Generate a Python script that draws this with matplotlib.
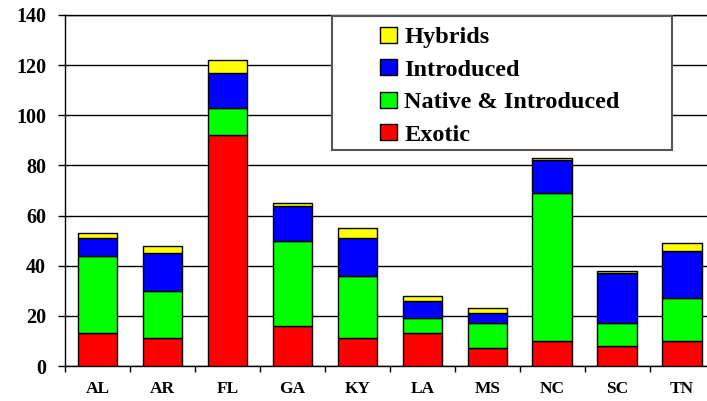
import numpy as np
import matplotlib.pyplot as plt
from matplotlib.patches import Rectangle

## datos por estado
states = ["AL", "AR", "FL", "GA", "KY", "LA", "MS", "NC", "SC", "TN"]
exotic = [13, 11, 92, 16, 11, 13, 7, 10, 8, 10]
native_intro = [31, 19, 11, 34, 25, 6, 10, 59, 9, 17]
introduced = [7, 15, 14, 14, 15, 7, 4, 13, 20, 19]
hybrids = [2, 3, 5, 1, 4, 2, 2, 1, 1, 3]

series = [
    ("Exotic", exotic, "#FF0000"),
    ("Native & Introduced", native_intro, "#00FF00"),
    ("Introduced", introduced, "#0000FF"),
    ("Hybrids", hybrids, "#FFFF00"),
]

W, H = 707, 401
fig = plt.figure(figsize=(W / 100, H / 100), dpi=100)
ax = fig.add_axes([65 / W, (H - 366) / H, (714.6 - 65) / W, (366 - 15) / H])

x = np.arange(len(states))
bottom = np.zeros(len(states))
handles = []
for name, vals, color in series:
    b = ax.bar(x, vals, 0.607, bottom=bottom, color=color,
               edgecolor="black", linewidth=1, zorder=3, label=name)
    handles.append(b)
    bottom = bottom + np.array(vals)

ax.set_xlim(-0.5, len(states) - 0.5)
ax.set_ylim(0, 140)
ax.set_yticks(np.arange(0, 141, 20))
ax.yaxis.grid(True, color="black", linewidth=1, zorder=0)
ax.set_axisbelow(True)

serif = "Liberation Serif"
ax.set_yticklabels([str(v) for v in range(0, 141, 20)],
                   fontfamily=serif, fontweight="bold", fontsize=14.5)
ax.tick_params(axis="y", length=5, width=1, pad=8.5)

## marcas entre categorias, etiquetas centradas
ax.set_xticks(np.arange(-0.5, len(states), 1.0))
ax.set_xticklabels([])
ax.set_xticks(x, minor=True)
ax.set_xticklabels(states, minor=True, fontfamily=serif,
                   fontweight="bold", fontsize=12.5)
ax.tick_params(axis="x", which="major", length=4, width=1)
ax.tick_params(axis="x", which="minor", length=0, pad=11)

for s in ["left", "bottom", "top", "right"]:
    ax.spines[s].set_color("black")
    ax.spines[s].set_linewidth(1)

## caja de leyenda
box = Rectangle((332 / W, (H - 150) / H), 340 / W, 134 / H,
                transform=fig.transFigure, facecolor="white",
                edgecolor="#555555", linewidth=1.5, zorder=5)
fig.patches.append(box)

leg = fig.legend(handles[::-1], [s[0] for s in series][::-1],
                 loc="upper left", bbox_to_anchor=(363 / W, (H - 10) / H),
                 frameon=False,
                 prop={"family": serif, "weight": "bold", "size": 17.5},
                 handlelength=0.7, handleheight=0.62, handletextpad=0.3,
                 labelspacing=0.45, borderpad=0.2)
leg.set_zorder(6)

plt.savefig("out.png", dpi=100)
